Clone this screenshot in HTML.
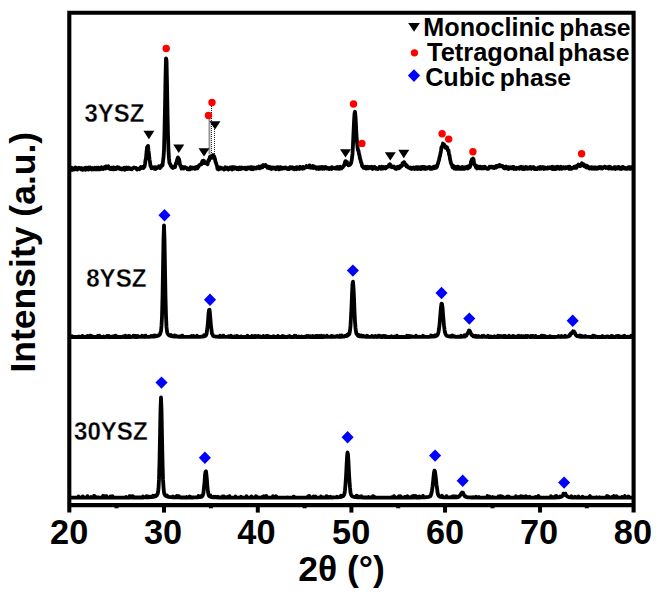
<!DOCTYPE html>
<html><head><meta charset="utf-8"><style>html,body{margin:0;padding:0;background:#fff;}svg{display:block;}</style></head>
<body><svg width="656" height="600" viewBox="0 0 656 600">
<rect width="656" height="600" fill="#fff"/>
<g font-family="&quot;Liberation Sans&quot;, sans-serif" font-weight="bold" fill="#000">
<path d="M71.0,168.7 L71.5,169.8 L72.0,167.8 L72.5,169.8 L73.0,168.2 L73.5,168.5 L74.0,169.5 L74.5,168.5 L75.0,168.8 L75.5,167.5 L76.0,169.3 L76.5,168.8 L77.0,168.3 L77.5,169.4 L78.0,168.2 L78.5,168.6 L79.0,167.8 L79.5,168.4 L80.0,168.0 L80.5,168.1 L81.0,169.3 L81.5,168.1 L82.0,168.6 L82.5,169.8 L83.0,169.8 L83.5,169.2 L84.0,168.8 L84.5,168.1 L85.0,167.8 L85.5,169.8 L86.0,168.7 L86.5,167.7 L87.0,168.9 L87.5,169.3 L88.0,168.9 L88.5,169.6 L89.0,167.5 L89.5,168.7 L90.0,168.5 L90.5,167.6 L91.0,169.0 L91.5,169.5 L92.0,168.8 L92.5,168.0 L93.0,169.4 L93.5,168.6 L94.0,168.6 L94.5,169.2 L95.0,167.8 L95.5,169.4 L96.0,169.0 L96.5,169.3 L97.0,167.8 L97.5,169.3 L98.0,167.8 L98.5,167.6 L99.0,169.4 L99.5,169.4 L100.0,169.4 L100.5,168.4 L101.0,168.0 L101.5,167.3 L102.0,168.8 L102.5,168.9 L103.0,169.1 L103.5,167.6 L104.0,167.3 L104.5,168.2 L105.0,168.3 L105.5,168.5 L106.0,166.4 L106.5,167.0 L107.0,168.0 L107.5,166.9 L108.0,167.4 L108.5,166.3 L109.0,168.0 L109.5,168.8 L110.0,168.8 L110.5,169.0 L111.0,168.6 L111.5,167.7 L112.0,169.0 L112.5,167.7 L113.0,169.3 L113.5,167.4 L114.0,169.3 L114.5,167.7 L115.0,168.2 L115.5,168.1 L116.0,169.0 L116.5,167.8 L117.0,168.3 L117.5,167.3 L118.0,168.0 L118.5,168.3 L119.0,167.6 L119.5,168.9 L120.0,168.3 L120.5,169.1 L121.0,168.9 L121.5,168.4 L122.0,169.4 L122.5,168.9 L123.0,169.3 L123.5,168.2 L124.0,168.6 L124.5,167.8 L125.0,169.7 L125.5,167.9 L126.0,167.9 L126.5,167.5 L127.0,167.9 L127.5,169.1 L128.0,169.0 L128.5,167.6 L129.0,168.2 L129.5,168.3 L130.0,168.9 L130.5,168.4 L131.0,168.7 L131.5,169.3 L132.0,169.0 L132.5,168.1 L133.0,168.3 L133.5,168.1 L134.0,167.5 L134.5,167.7 L135.0,167.9 L135.5,168.0 L136.0,167.9 L136.5,168.6 L137.0,169.5 L137.5,169.0 L138.0,169.0 L138.5,168.9 L139.0,168.5 L139.5,169.2 L140.0,168.7 L140.5,168.2 L141.0,167.1 L141.5,168.0 L142.0,167.3 L142.5,167.0 L143.0,167.7 L143.5,168.1 L144.0,166.4 L144.5,166.5 L145.0,164.1 L145.5,160.3 L146.0,158.2 L146.5,152.1 L147.0,147.5 L147.5,146.6 L148.0,145.9 L148.5,151.0 L149.0,154.4 L149.5,159.3 L150.0,162.3 L150.5,165.9 L151.0,166.1 L151.5,168.2 L152.0,167.7 L152.5,168.0 L153.0,167.7 L153.5,167.3 L154.0,167.5 L154.5,168.8 L155.0,167.1 L155.5,169.0 L156.0,168.4 L156.5,167.4 L157.0,168.0 L157.5,167.3 L158.0,167.3 L158.5,167.5 L159.0,166.2 L159.5,167.2 L160.0,168.1 L160.5,166.2 L161.0,167.0 L161.5,165.9 L162.0,164.7 L162.5,165.4 L163.0,161.3 L163.5,157.6 L164.0,150.0 L164.5,131.2 L165.0,107.2 L165.5,77.8 L166.0,58.3 L166.5,60.4 L167.0,82.7 L167.5,112.6 L168.0,134.7 L168.5,151.1 L169.0,158.9 L169.5,162.9 L170.0,163.7 L170.5,164.8 L171.0,166.2 L171.5,166.1 L172.0,167.4 L172.5,167.1 L173.0,167.9 L173.5,167.6 L174.0,167.3 L174.5,166.4 L175.0,167.1 L175.5,164.9 L176.0,163.1 L176.5,163.3 L177.0,160.1 L177.5,158.8 L178.0,157.5 L178.5,158.5 L179.0,159.0 L179.5,161.6 L180.0,164.8 L180.5,166.1 L181.0,166.1 L181.5,168.5 L182.0,166.9 L182.5,167.9 L183.0,167.1 L183.5,168.6 L184.0,167.6 L184.5,167.3 L185.0,167.1 L185.5,167.4 L186.0,167.5 L186.5,168.3 L187.0,168.1 L187.5,169.4 L188.0,169.4 L188.5,169.0 L189.0,168.7 L189.5,169.2 L190.0,169.4 L190.5,167.2 L191.0,167.4 L191.5,168.0 L192.0,167.4 L192.5,168.6 L193.0,167.8 L193.5,167.8 L194.0,167.9 L194.5,167.4 L195.0,168.9 L195.5,168.6 L196.0,168.5 L196.5,167.0 L197.0,167.8 L197.5,168.2 L198.0,166.7 L198.5,166.8 L199.0,165.5 L199.5,165.1 L200.0,164.7 L200.5,164.5 L201.0,163.9 L201.5,164.2 L202.0,162.2 L202.5,161.0 L203.0,162.6 L203.5,160.7 L204.0,160.8 L204.5,163.2 L205.0,163.2 L205.5,162.7 L206.0,162.7 L206.5,163.6 L207.0,163.5 L207.5,164.3 L208.0,162.3 L208.5,160.2 L209.0,160.7 L209.5,158.7 L210.0,156.6 L210.5,156.3 L211.0,157.2 L211.5,156.6 L212.0,157.8 L212.5,157.2 L213.0,155.0 L213.5,156.2 L214.0,156.2 L214.5,157.7 L215.0,159.2 L215.5,161.8 L216.0,163.0 L216.5,164.6 L217.0,166.0 L217.5,168.9 L218.0,168.5 L218.5,169.4 L219.0,168.0 L219.5,169.0 L220.0,167.4 L220.5,167.6 L221.0,167.9 L221.5,168.5 L222.0,168.5 L222.5,168.4 L223.0,168.2 L223.5,168.6 L224.0,169.5 L224.5,168.3 L225.0,169.2 L225.5,167.3 L226.0,168.1 L226.5,168.5 L227.0,168.7 L227.5,167.8 L228.0,168.2 L228.5,169.5 L229.0,168.8 L229.5,168.6 L230.0,167.4 L230.5,167.3 L231.0,167.7 L231.5,167.5 L232.0,169.6 L232.5,167.2 L233.0,168.1 L233.5,167.3 L234.0,168.7 L234.5,167.3 L235.0,167.3 L235.5,167.4 L236.0,167.8 L236.5,168.6 L237.0,169.1 L237.5,167.8 L238.0,167.9 L238.5,169.2 L239.0,169.0 L239.5,167.5 L240.0,169.1 L240.5,169.2 L241.0,167.6 L241.5,168.7 L242.0,167.6 L242.5,167.7 L243.0,168.3 L243.5,168.4 L244.0,168.3 L244.5,168.4 L245.0,167.7 L245.5,169.0 L246.0,167.8 L246.5,169.3 L247.0,168.4 L247.5,167.8 L248.0,167.5 L248.5,168.3 L249.0,168.0 L249.5,168.6 L250.0,168.3 L250.5,167.2 L251.0,169.1 L251.5,167.2 L252.0,169.0 L252.5,169.0 L253.0,169.2 L253.5,168.6 L254.0,167.4 L254.5,168.0 L255.0,168.0 L255.5,168.4 L256.0,167.8 L256.5,168.4 L257.0,167.2 L257.5,167.5 L258.0,167.8 L258.5,167.4 L259.0,166.6 L259.5,168.4 L260.0,167.6 L260.5,167.7 L261.0,166.4 L261.5,167.6 L262.0,167.1 L262.5,167.3 L263.0,165.2 L263.5,165.8 L264.0,165.5 L264.5,166.0 L265.0,165.2 L265.5,165.0 L266.0,166.1 L266.5,166.7 L267.0,166.3 L267.5,167.9 L268.0,166.7 L268.5,166.7 L269.0,168.1 L269.5,167.4 L270.0,167.1 L270.5,167.2 L271.0,168.9 L271.5,169.0 L272.0,168.3 L272.5,167.5 L273.0,168.6 L273.5,167.4 L274.0,167.7 L274.5,168.3 L275.0,167.9 L275.5,167.8 L276.0,169.3 L276.5,167.4 L277.0,168.5 L277.5,167.1 L278.0,167.2 L278.5,167.5 L279.0,169.4 L279.5,168.8 L280.0,169.1 L280.5,167.2 L281.0,168.7 L281.5,168.1 L282.0,168.0 L282.5,168.7 L283.0,167.8 L283.5,168.3 L284.0,167.7 L284.5,168.0 L285.0,168.3 L285.5,167.4 L286.0,167.7 L286.5,168.1 L287.0,168.2 L287.5,169.0 L288.0,168.6 L288.5,168.4 L289.0,169.1 L289.5,167.5 L290.0,167.3 L290.5,168.0 L291.0,167.4 L291.5,168.4 L292.0,168.4 L292.5,167.3 L293.0,168.7 L293.5,168.3 L294.0,168.0 L294.5,169.2 L295.0,169.0 L295.5,167.5 L296.0,167.4 L296.5,169.2 L297.0,167.3 L297.5,168.7 L298.0,167.7 L298.5,167.7 L299.0,168.2 L299.5,169.0 L300.0,166.8 L300.5,167.1 L301.0,168.4 L301.5,167.5 L302.0,167.2 L302.5,168.7 L303.0,166.9 L303.5,167.9 L304.0,168.4 L304.5,167.7 L305.0,167.5 L305.5,167.3 L306.0,167.4 L306.5,166.0 L307.0,166.7 L307.5,167.1 L308.0,167.2 L308.5,167.2 L309.0,167.3 L309.5,165.4 L310.0,166.2 L310.5,166.5 L311.0,167.7 L311.5,166.7 L312.0,166.4 L312.5,166.0 L313.0,166.8 L313.5,168.1 L314.0,166.4 L314.5,166.8 L315.0,167.2 L315.5,167.8 L316.0,167.5 L316.5,168.8 L317.0,167.2 L317.5,168.1 L318.0,168.7 L318.5,169.1 L319.0,168.9 L319.5,167.2 L320.0,168.8 L320.5,168.5 L321.0,167.9 L321.5,167.0 L322.0,167.3 L322.5,168.7 L323.0,167.1 L323.5,167.7 L324.0,167.5 L324.5,168.7 L325.0,167.8 L325.5,167.1 L326.0,167.8 L326.5,167.7 L327.0,168.6 L327.5,167.7 L328.0,168.6 L328.5,168.2 L329.0,169.0 L329.5,168.7 L330.0,167.9 L330.5,168.0 L331.0,168.0 L331.5,169.0 L332.0,167.2 L332.5,167.9 L333.0,168.1 L333.5,167.9 L334.0,168.3 L334.5,168.0 L335.0,167.8 L335.5,168.4 L336.0,167.6 L336.5,168.2 L337.0,168.5 L337.5,167.0 L338.0,167.4 L338.5,168.9 L339.0,168.9 L339.5,168.9 L340.0,166.6 L340.5,168.4 L341.0,168.6 L341.5,168.4 L342.0,167.7 L342.5,167.3 L343.0,167.0 L343.5,166.0 L344.0,165.7 L344.5,164.0 L345.0,162.3 L345.5,161.1 L346.0,162.6 L346.5,162.5 L347.0,161.9 L347.5,164.3 L348.0,163.9 L348.5,165.3 L349.0,165.1 L349.5,164.9 L350.0,164.7 L350.5,164.1 L351.0,163.2 L351.5,161.3 L352.0,157.9 L352.5,153.9 L353.0,144.4 L353.5,132.5 L354.0,122.1 L354.5,113.7 L355.0,111.8 L355.5,116.4 L356.0,125.9 L356.5,136.0 L357.0,141.8 L357.5,146.7 L358.0,150.4 L358.5,150.7 L359.0,153.9 L359.5,155.6 L360.0,158.6 L360.5,159.8 L361.0,162.1 L361.5,163.2 L362.0,165.6 L362.5,166.6 L363.0,166.5 L363.5,167.7 L364.0,167.4 L364.5,167.9 L365.0,168.2 L365.5,166.8 L366.0,168.6 L366.5,167.2 L367.0,167.5 L367.5,166.8 L368.0,168.4 L368.5,167.3 L369.0,168.2 L369.5,167.1 L370.0,167.4 L370.5,167.5 L371.0,167.2 L371.5,166.7 L372.0,168.5 L372.5,169.0 L373.0,167.2 L373.5,167.1 L374.0,167.6 L374.5,166.9 L375.0,168.3 L375.5,167.6 L376.0,168.1 L376.5,168.9 L377.0,168.8 L377.5,169.0 L378.0,169.0 L378.5,168.2 L379.0,168.0 L379.5,166.9 L380.0,167.0 L380.5,168.0 L381.0,168.8 L381.5,167.8 L382.0,166.7 L382.5,167.2 L383.0,168.5 L383.5,167.1 L384.0,167.1 L384.5,167.3 L385.0,168.0 L385.5,168.5 L386.0,166.9 L386.5,167.6 L387.0,167.2 L387.5,166.6 L388.0,166.6 L388.5,166.7 L389.0,164.9 L389.5,165.2 L390.0,164.2 L390.5,165.3 L391.0,166.2 L391.5,167.1 L392.0,166.3 L392.5,166.3 L393.0,167.2 L393.5,167.0 L394.0,166.5 L394.5,167.6 L395.0,168.4 L395.5,168.6 L396.0,168.9 L396.5,167.4 L397.0,167.1 L397.5,166.7 L398.0,167.5 L398.5,168.3 L399.0,166.8 L399.5,168.1 L400.0,167.5 L400.5,165.9 L401.0,166.4 L401.5,166.2 L402.0,165.7 L402.5,163.1 L403.0,164.0 L403.5,163.4 L404.0,162.1 L404.5,162.6 L405.0,164.8 L405.5,164.2 L406.0,164.8 L406.5,166.5 L407.0,165.6 L407.5,166.9 L408.0,166.9 L408.5,167.5 L409.0,167.8 L409.5,168.0 L410.0,167.6 L410.5,168.7 L411.0,168.6 L411.5,168.9 L412.0,167.8 L412.5,168.5 L413.0,167.8 L413.5,167.4 L414.0,168.3 L414.5,169.0 L415.0,168.7 L415.5,167.5 L416.0,167.3 L416.5,168.6 L417.0,168.5 L417.5,168.9 L418.0,167.1 L418.5,168.9 L419.0,167.8 L419.5,167.5 L420.0,167.6 L420.5,169.2 L421.0,169.1 L421.5,167.0 L422.0,167.6 L422.5,168.5 L423.0,166.9 L423.5,166.9 L424.0,166.9 L424.5,168.9 L425.0,167.6 L425.5,167.5 L426.0,168.7 L426.5,167.5 L427.0,168.5 L427.5,167.7 L428.0,167.5 L428.5,167.7 L429.0,167.1 L429.5,166.9 L430.0,168.8 L430.5,168.8 L431.0,167.8 L431.5,168.3 L432.0,168.7 L432.5,167.6 L433.0,168.3 L433.5,168.4 L434.0,166.7 L434.5,166.8 L435.0,168.1 L435.5,167.8 L436.0,166.3 L436.5,167.4 L437.0,166.7 L437.5,164.7 L438.0,163.5 L438.5,161.4 L439.0,160.3 L439.5,157.3 L440.0,155.8 L440.5,153.3 L441.0,150.6 L441.5,147.1 L442.0,146.5 L442.5,145.5 L443.0,143.5 L443.5,144.6 L444.0,145.6 L444.5,144.8 L445.0,147.2 L445.5,147.9 L446.0,147.7 L446.5,148.3 L447.0,147.3 L447.5,148.9 L448.0,150.7 L448.5,150.3 L449.0,154.3 L449.5,155.3 L450.0,159.1 L450.5,161.0 L451.0,163.3 L451.5,164.0 L452.0,165.3 L452.5,167.3 L453.0,165.8 L453.5,166.4 L454.0,168.6 L454.5,168.6 L455.0,166.8 L455.5,168.9 L456.0,167.2 L456.5,168.7 L457.0,168.8 L457.5,166.7 L458.0,166.7 L458.5,167.4 L459.0,168.9 L459.5,168.5 L460.0,167.6 L460.5,168.7 L461.0,167.4 L461.5,167.5 L462.0,167.1 L462.5,168.9 L463.0,168.6 L463.5,167.7 L464.0,167.2 L464.5,168.9 L465.0,167.5 L465.5,167.1 L466.0,167.5 L466.5,168.2 L467.0,168.3 L467.5,166.6 L468.0,168.5 L468.5,167.7 L469.0,165.9 L469.5,167.3 L470.0,166.8 L470.5,165.2 L471.0,161.5 L471.5,160.7 L472.0,159.2 L472.5,159.0 L473.0,158.5 L473.5,159.0 L474.0,162.9 L474.5,164.8 L475.0,165.1 L475.5,165.1 L476.0,167.6 L476.5,167.8 L477.0,168.5 L477.5,166.3 L478.0,167.5 L478.5,167.1 L479.0,166.8 L479.5,168.3 L480.0,167.4 L480.5,166.7 L481.0,166.9 L481.5,168.5 L482.0,168.1 L482.5,167.2 L483.0,168.3 L483.5,167.0 L484.0,168.3 L484.5,168.2 L485.0,166.7 L485.5,167.9 L486.0,168.4 L486.5,168.5 L487.0,168.3 L487.5,168.8 L488.0,168.4 L488.5,168.8 L489.0,167.6 L489.5,166.7 L490.0,167.0 L490.5,167.2 L491.0,166.6 L491.5,166.7 L492.0,167.6 L492.5,166.9 L493.0,166.9 L493.5,167.9 L494.0,168.1 L494.5,168.0 L495.0,166.7 L495.5,167.4 L496.0,167.6 L496.5,165.8 L497.0,165.8 L497.5,166.8 L498.0,165.8 L498.5,165.6 L499.0,166.0 L499.5,165.1 L500.0,166.2 L500.5,165.3 L501.0,165.9 L501.5,166.0 L502.0,166.4 L502.5,166.0 L503.0,166.9 L503.5,167.6 L504.0,166.8 L504.5,168.4 L505.0,168.3 L505.5,167.0 L506.0,166.5 L506.5,168.3 L507.0,167.0 L507.5,167.3 L508.0,167.9 L508.5,169.0 L509.0,167.3 L509.5,167.7 L510.0,168.1 L510.5,168.3 L511.0,167.2 L511.5,168.1 L512.0,168.0 L512.5,168.3 L513.0,167.0 L513.5,167.0 L514.0,169.0 L514.5,168.7 L515.0,168.7 L515.5,168.9 L516.0,169.0 L516.5,167.7 L517.0,168.5 L517.5,168.3 L518.0,168.1 L518.5,168.3 L519.0,167.5 L519.5,168.8 L520.0,167.7 L520.5,167.1 L521.0,166.7 L521.5,168.3 L522.0,167.3 L522.5,169.0 L523.0,167.2 L523.5,167.5 L524.0,169.1 L524.5,168.0 L525.0,168.9 L525.5,168.6 L526.0,167.0 L526.5,167.2 L527.0,167.7 L527.5,168.8 L528.0,167.5 L528.5,167.8 L529.0,167.9 L529.5,167.5 L530.0,168.6 L530.5,166.9 L531.0,167.3 L531.5,168.7 L532.0,168.2 L532.5,168.0 L533.0,167.6 L533.5,167.0 L534.0,167.8 L534.5,169.1 L535.0,168.1 L535.5,168.1 L536.0,169.1 L536.5,168.8 L537.0,169.1 L537.5,169.0 L538.0,168.3 L538.5,167.4 L539.0,168.2 L539.5,167.5 L540.0,168.7 L540.5,167.0 L541.0,167.8 L541.5,168.7 L542.0,167.8 L542.5,168.2 L543.0,166.9 L543.5,167.4 L544.0,169.0 L544.5,168.3 L545.0,167.6 L545.5,167.9 L546.0,168.6 L546.5,168.6 L547.0,168.7 L547.5,167.4 L548.0,167.3 L548.5,168.2 L549.0,168.0 L549.5,168.0 L550.0,167.2 L550.5,167.5 L551.0,168.5 L551.5,167.5 L552.0,168.5 L552.5,166.8 L553.0,169.0 L553.5,167.2 L554.0,167.8 L554.5,168.9 L555.0,167.3 L555.5,167.2 L556.0,169.0 L556.5,168.8 L557.0,167.9 L557.5,166.8 L558.0,168.1 L558.5,167.3 L559.0,167.2 L559.5,168.9 L560.0,168.1 L560.5,167.7 L561.0,166.8 L561.5,167.5 L562.0,168.7 L562.5,167.4 L563.0,167.4 L563.5,168.1 L564.0,167.2 L564.5,167.9 L565.0,168.4 L565.5,167.3 L566.0,167.7 L566.5,168.0 L567.0,167.4 L567.5,167.1 L568.0,166.8 L568.5,167.9 L569.0,168.8 L569.5,166.6 L570.0,168.6 L570.5,168.8 L571.0,167.8 L571.5,168.8 L572.0,168.1 L572.5,167.7 L573.0,167.4 L573.5,167.4 L574.0,167.8 L574.5,166.6 L575.0,167.7 L575.5,167.0 L576.0,167.3 L576.5,167.7 L577.0,165.8 L577.5,166.0 L578.0,165.4 L578.5,164.6 L579.0,165.7 L579.5,165.4 L580.0,166.1 L580.5,164.9 L581.0,164.3 L581.5,165.4 L582.0,163.3 L582.5,164.1 L583.0,165.4 L583.5,164.2 L584.0,165.0 L584.5,166.4 L585.0,165.5 L585.5,165.5 L586.0,167.3 L586.5,165.6 L587.0,167.6 L587.5,166.5 L588.0,166.4 L588.5,167.2 L589.0,167.3 L589.5,168.5 L590.0,168.1 L590.5,167.4 L591.0,167.7 L591.5,167.2 L592.0,168.8 L592.5,167.4 L593.0,168.6 L593.5,168.1 L594.0,168.7 L594.5,167.4 L595.0,167.5 L595.5,167.4 L596.0,168.5 L596.5,168.8 L597.0,168.5 L597.5,167.6 L598.0,168.5 L598.5,168.3 L599.0,167.8 L599.5,167.0 L600.0,167.1 L600.5,168.3 L601.0,167.1 L601.5,167.9 L602.0,168.5 L602.5,168.2 L603.0,168.0 L603.5,167.2 L604.0,166.9 L604.5,166.7 L605.0,166.7 L605.5,167.1 L606.0,167.9 L606.5,167.6 L607.0,167.1 L607.5,167.3 L608.0,167.7 L608.5,168.5 L609.0,168.2 L609.5,166.7 L610.0,167.8 L610.5,167.0 L611.0,168.6 L611.5,168.7 L612.0,167.9 L612.5,168.4 L613.0,168.2 L613.5,168.6 L614.0,167.3 L614.5,167.1 L615.0,168.4 L615.5,168.9 L616.0,167.2 L616.5,168.0 L617.0,167.9 L617.5,167.5 L618.0,168.4 L618.5,166.9 L619.0,167.5 L619.5,167.6 L620.0,168.9 L620.5,168.2 L621.0,168.3 L621.5,169.0 L622.0,167.1 L622.5,168.0 L623.0,166.9 L623.5,167.0 L624.0,168.3 L624.5,168.6 L625.0,168.1 L625.5,168.0 L626.0,168.5 L626.5,168.9 L627.0,168.8 L627.5,168.5 L628.0,167.6 L628.5,168.4 L629.0,167.2 L629.5,168.8 L630.0,167.3 L630.5,168.9 L631.0,167.3 L631.5,167.2 L632.0,167.4 L632.5,167.7" fill="none" stroke="#000" stroke-width="3.8" stroke-linejoin="round"/>
<path d="M71.0,337.0 L71.5,337.0 L72.0,336.2 L72.5,337.0 L73.0,337.0 L73.5,337.0 L74.0,337.0 L74.5,337.0 L75.0,337.0 L75.5,337.0 L76.0,337.0 L76.5,337.0 L77.0,337.0 L77.5,337.0 L78.0,337.0 L78.5,337.0 L79.0,336.4 L79.5,337.0 L80.0,337.0 L80.5,337.0 L81.0,337.0 L81.5,337.0 L82.0,336.1 L82.5,336.0 L83.0,337.0 L83.5,336.5 L84.0,337.0 L84.5,337.0 L85.0,337.0 L85.5,337.0 L86.0,337.0 L86.5,336.5 L87.0,337.0 L87.5,336.0 L88.0,337.0 L88.5,337.0 L89.0,337.0 L89.5,337.0 L90.0,335.7 L90.5,337.0 L91.0,335.7 L91.5,337.0 L92.0,336.2 L92.5,337.0 L93.0,337.0 L93.5,337.0 L94.0,337.0 L94.5,337.0 L95.0,337.0 L95.5,337.0 L96.0,337.0 L96.5,337.0 L97.0,336.6 L97.5,336.1 L98.0,337.0 L98.5,336.4 L99.0,337.0 L99.5,335.8 L100.0,337.0 L100.5,337.0 L101.0,337.0 L101.5,337.0 L102.0,337.0 L102.5,337.0 L103.0,337.0 L103.5,336.5 L104.0,337.0 L104.5,337.0 L105.0,337.0 L105.5,337.0 L106.0,337.0 L106.5,336.6 L107.0,335.9 L107.5,337.0 L108.0,337.0 L108.5,337.0 L109.0,335.9 L109.5,337.0 L110.0,337.0 L110.5,337.0 L111.0,337.0 L111.5,337.0 L112.0,336.7 L112.5,336.4 L113.0,337.0 L113.5,337.0 L114.0,337.0 L114.5,336.1 L115.0,337.0 L115.5,337.0 L116.0,335.7 L116.5,337.0 L117.0,337.0 L117.5,337.0 L118.0,337.0 L118.5,337.0 L119.0,337.0 L119.5,337.0 L120.0,337.0 L120.5,337.0 L121.0,337.0 L121.5,337.0 L122.0,337.0 L122.5,337.0 L123.0,336.3 L123.5,336.4 L124.0,337.0 L124.5,337.0 L125.0,337.0 L125.5,335.8 L126.0,337.0 L126.5,337.0 L127.0,337.0 L127.5,337.0 L128.0,336.2 L128.5,336.6 L129.0,335.9 L129.5,337.0 L130.0,336.2 L130.5,337.0 L131.0,337.0 L131.5,337.0 L132.0,336.9 L132.5,336.9 L133.0,336.9 L133.5,335.7 L134.0,336.4 L134.5,336.9 L135.0,336.3 L135.5,336.9 L136.0,335.9 L136.5,336.9 L137.0,336.5 L137.5,336.9 L138.0,336.1 L138.5,336.9 L139.0,336.9 L139.5,336.9 L140.0,336.9 L140.5,336.9 L141.0,336.9 L141.5,336.9 L142.0,335.8 L142.5,336.9 L143.0,336.9 L143.5,336.9 L144.0,336.9 L144.5,336.0 L145.0,336.9 L145.5,335.6 L146.0,336.3 L146.5,336.8 L147.0,336.8 L147.5,336.8 L148.0,336.8 L148.5,336.8 L149.0,336.8 L149.5,336.8 L150.0,336.8 L150.5,336.7 L151.0,335.9 L151.5,336.7 L152.0,336.7 L152.5,336.6 L153.0,336.6 L153.5,335.8 L154.0,336.5 L154.5,336.5 L155.0,335.4 L155.5,336.3 L156.0,336.3 L156.5,336.2 L157.0,336.0 L157.5,335.9 L158.0,335.4 L158.5,335.5 L159.0,335.2 L159.5,334.8 L160.0,334.2 L160.5,332.4 L161.0,331.4 L161.5,325.9 L162.0,316.8 L162.5,297.7 L163.0,269.3 L163.5,239.3 L164.0,225.4 L164.5,239.7 L165.0,268.6 L165.5,297.7 L166.0,315.9 L166.5,326.9 L167.0,331.4 L167.5,333.3 L168.0,334.2 L168.5,334.8 L169.0,335.2 L169.5,335.5 L170.0,335.7 L170.5,335.9 L171.0,334.9 L171.5,336.2 L172.0,336.3 L172.5,336.3 L173.0,336.4 L173.5,336.5 L174.0,336.5 L174.5,335.5 L175.0,336.6 L175.5,336.6 L176.0,335.8 L176.5,336.7 L177.0,336.7 L177.5,336.7 L178.0,336.7 L178.5,336.8 L179.0,336.4 L179.5,336.3 L180.0,336.8 L180.5,336.8 L181.0,336.8 L181.5,336.8 L182.0,335.6 L182.5,335.7 L183.0,336.5 L183.5,336.8 L184.0,336.9 L184.5,336.9 L185.0,336.9 L185.5,336.9 L186.0,336.9 L186.5,336.9 L187.0,336.9 L187.5,336.9 L188.0,336.9 L188.5,336.9 L189.0,336.9 L189.5,336.9 L190.0,336.9 L190.5,336.9 L191.0,336.9 L191.5,336.1 L192.0,336.9 L192.5,336.9 L193.0,336.9 L193.5,335.9 L194.0,336.9 L194.5,336.9 L195.0,336.9 L195.5,336.9 L196.0,336.9 L196.5,336.9 L197.0,335.7 L197.5,336.8 L198.0,336.8 L198.5,336.8 L199.0,336.8 L199.5,336.8 L200.0,336.8 L200.5,336.8 L201.0,336.7 L201.5,336.7 L202.0,336.7 L202.5,336.6 L203.0,336.6 L203.5,336.5 L204.0,335.3 L204.5,336.3 L205.0,336.1 L205.5,335.9 L206.0,335.3 L206.5,334.1 L207.0,330.9 L207.5,326.6 L208.0,321.8 L208.5,314.1 L209.0,310.2 L209.5,309.7 L210.0,314.0 L210.5,320.5 L211.0,326.6 L211.5,329.9 L212.0,333.7 L212.5,334.6 L213.0,335.8 L213.5,336.1 L214.0,336.3 L214.5,336.4 L215.0,336.5 L215.5,336.6 L216.0,336.6 L216.5,336.7 L217.0,336.7 L217.5,336.7 L218.0,336.8 L218.5,336.8 L219.0,336.8 L219.5,336.8 L220.0,335.7 L220.5,336.9 L221.0,336.9 L221.5,336.9 L222.0,336.9 L222.5,336.9 L223.0,335.8 L223.5,335.6 L224.0,336.9 L224.5,336.9 L225.0,336.9 L225.5,336.9 L226.0,336.9 L226.5,336.9 L227.0,336.9 L227.5,336.9 L228.0,336.9 L228.5,336.2 L229.0,336.5 L229.5,336.9 L230.0,336.2 L230.5,336.6 L231.0,335.7 L231.5,337.0 L232.0,337.0 L232.5,337.0 L233.0,337.0 L233.5,337.0 L234.0,336.5 L234.5,336.4 L235.0,337.0 L235.5,336.6 L236.0,337.0 L236.5,337.0 L237.0,336.0 L237.5,337.0 L238.0,336.4 L238.5,337.0 L239.0,337.0 L239.5,337.0 L240.0,337.0 L240.5,336.5 L241.0,337.0 L241.5,336.4 L242.0,337.0 L242.5,337.0 L243.0,337.0 L243.5,337.0 L244.0,337.0 L244.5,337.0 L245.0,337.0 L245.5,337.0 L246.0,337.0 L246.5,337.0 L247.0,337.0 L247.5,335.8 L248.0,337.0 L248.5,337.0 L249.0,337.0 L249.5,337.0 L250.0,337.0 L250.5,337.0 L251.0,336.5 L251.5,337.0 L252.0,336.0 L252.5,337.0 L253.0,337.0 L253.5,337.0 L254.0,337.0 L254.5,336.1 L255.0,335.9 L255.5,337.0 L256.0,337.0 L256.5,336.3 L257.0,337.0 L257.5,337.0 L258.0,336.0 L258.5,335.9 L259.0,336.4 L259.5,337.0 L260.0,337.0 L260.5,336.5 L261.0,337.0 L261.5,337.0 L262.0,337.0 L262.5,337.0 L263.0,337.0 L263.5,335.9 L264.0,337.0 L264.5,337.0 L265.0,337.0 L265.5,337.0 L266.0,337.0 L266.5,336.1 L267.0,336.5 L267.5,337.0 L268.0,335.9 L268.5,337.0 L269.0,337.0 L269.5,337.0 L270.0,336.6 L270.5,337.0 L271.0,337.0 L271.5,337.0 L272.0,337.0 L272.5,337.0 L273.0,337.0 L273.5,336.2 L274.0,337.0 L274.5,337.0 L275.0,337.0 L275.5,337.0 L276.0,337.0 L276.5,337.0 L277.0,337.0 L277.5,337.0 L278.0,335.9 L278.5,337.0 L279.0,337.0 L279.5,337.0 L280.0,337.0 L280.5,337.0 L281.0,337.0 L281.5,337.0 L282.0,337.0 L282.5,336.0 L283.0,337.0 L283.5,337.0 L284.0,337.0 L284.5,336.5 L285.0,337.0 L285.5,337.0 L286.0,337.0 L286.5,337.0 L287.0,337.0 L287.5,336.6 L288.0,337.0 L288.5,336.5 L289.0,336.5 L289.5,336.0 L290.0,337.0 L290.5,337.0 L291.0,337.0 L291.5,337.0 L292.0,337.0 L292.5,337.0 L293.0,337.0 L293.5,337.0 L294.0,337.0 L294.5,335.8 L295.0,337.0 L295.5,336.3 L296.0,336.0 L296.5,337.0 L297.0,337.0 L297.5,337.0 L298.0,337.0 L298.5,337.0 L299.0,336.4 L299.5,337.0 L300.0,337.0 L300.5,337.0 L301.0,337.0 L301.5,336.5 L302.0,337.0 L302.5,337.0 L303.0,337.0 L303.5,337.0 L304.0,337.0 L304.5,337.0 L305.0,337.0 L305.5,336.4 L306.0,337.0 L306.5,337.0 L307.0,336.0 L307.5,336.2 L308.0,337.0 L308.5,336.0 L309.0,337.0 L309.5,337.0 L310.0,337.0 L310.5,337.0 L311.0,336.3 L311.5,337.0 L312.0,336.5 L312.5,337.0 L313.0,336.1 L313.5,337.0 L314.0,337.0 L314.5,337.0 L315.0,337.0 L315.5,336.2 L316.0,337.0 L316.5,336.1 L317.0,337.0 L317.5,337.0 L318.0,335.9 L318.5,337.0 L319.0,337.0 L319.5,335.9 L320.0,337.0 L320.5,337.0 L321.0,337.0 L321.5,335.7 L322.0,337.0 L322.5,337.0 L323.0,337.0 L323.5,337.0 L324.0,336.1 L324.5,336.9 L325.0,336.9 L325.5,336.9 L326.0,336.9 L326.5,336.9 L327.0,335.8 L327.5,336.9 L328.0,336.9 L328.5,336.9 L329.0,336.9 L329.5,336.9 L330.0,336.9 L330.5,336.9 L331.0,336.2 L331.5,336.9 L332.0,335.9 L332.5,336.9 L333.0,336.9 L333.5,336.9 L334.0,336.4 L334.5,336.9 L335.0,336.9 L335.5,336.9 L336.0,336.9 L336.5,336.2 L337.0,336.4 L337.5,336.0 L338.0,336.8 L338.5,336.8 L339.0,336.8 L339.5,336.2 L340.0,335.6 L340.5,336.8 L341.0,336.1 L341.5,336.7 L342.0,335.5 L342.5,336.7 L343.0,336.6 L343.5,336.6 L344.0,336.5 L344.5,336.5 L345.0,336.0 L345.5,335.7 L346.0,336.2 L346.5,336.1 L347.0,336.0 L347.5,334.7 L348.0,335.5 L348.5,334.0 L349.0,334.5 L349.5,333.2 L350.0,330.6 L350.5,325.7 L351.0,316.9 L351.5,306.8 L352.0,294.4 L352.5,283.9 L353.0,281.6 L353.5,287.8 L354.0,298.2 L354.5,311.5 L355.0,321.4 L355.5,328.0 L356.0,331.8 L356.5,333.8 L357.0,334.5 L357.5,334.9 L358.0,335.7 L358.5,334.9 L359.0,335.1 L359.5,336.2 L360.0,335.7 L360.5,336.4 L361.0,336.4 L361.5,335.4 L362.0,336.6 L362.5,336.6 L363.0,335.8 L363.5,335.9 L364.0,336.7 L364.5,336.7 L365.0,336.7 L365.5,336.8 L366.0,336.4 L366.5,336.8 L367.0,335.8 L367.5,336.8 L368.0,336.3 L368.5,336.8 L369.0,336.8 L369.5,336.9 L370.0,336.9 L370.5,336.9 L371.0,336.9 L371.5,336.9 L372.0,335.9 L372.5,336.9 L373.0,336.9 L373.5,336.9 L374.0,336.5 L374.5,336.9 L375.0,336.2 L375.5,336.0 L376.0,336.2 L376.5,336.9 L377.0,336.6 L377.5,336.9 L378.0,336.9 L378.5,335.7 L379.0,336.9 L379.5,335.7 L380.0,336.9 L380.5,336.9 L381.0,336.2 L381.5,336.9 L382.0,336.4 L382.5,336.9 L383.0,335.9 L383.5,335.9 L384.0,336.5 L384.5,336.9 L385.0,335.9 L385.5,337.0 L386.0,337.0 L386.5,336.5 L387.0,337.0 L387.5,337.0 L388.0,337.0 L388.5,337.0 L389.0,337.0 L389.5,337.0 L390.0,337.0 L390.5,337.0 L391.0,337.0 L391.5,336.3 L392.0,337.0 L392.5,337.0 L393.0,337.0 L393.5,337.0 L394.0,337.0 L394.5,336.4 L395.0,337.0 L395.5,337.0 L396.0,337.0 L396.5,337.0 L397.0,335.8 L397.5,336.5 L398.0,337.0 L398.5,337.0 L399.0,337.0 L399.5,337.0 L400.0,337.0 L400.5,337.0 L401.0,337.0 L401.5,337.0 L402.0,337.0 L402.5,337.0 L403.0,337.0 L403.5,337.0 L404.0,337.0 L404.5,337.0 L405.0,337.0 L405.5,337.0 L406.0,337.0 L406.5,337.0 L407.0,335.8 L407.5,337.0 L408.0,337.0 L408.5,337.0 L409.0,336.0 L409.5,337.0 L410.0,337.0 L410.5,336.2 L411.0,336.9 L411.5,336.9 L412.0,336.9 L412.5,336.4 L413.0,336.9 L413.5,336.9 L414.0,336.9 L414.5,336.9 L415.0,336.9 L415.5,336.5 L416.0,335.7 L416.5,336.9 L417.0,336.9 L417.5,336.9 L418.0,336.9 L418.5,336.9 L419.0,336.9 L419.5,336.6 L420.0,336.9 L420.5,336.9 L421.0,336.9 L421.5,336.9 L422.0,336.9 L422.5,336.9 L423.0,335.7 L423.5,336.9 L424.0,336.9 L424.5,336.9 L425.0,336.6 L425.5,336.9 L426.0,336.9 L426.5,336.8 L427.0,336.8 L427.5,336.8 L428.0,336.8 L428.5,336.8 L429.0,336.8 L429.5,336.8 L430.0,336.8 L430.5,336.7 L431.0,335.4 L431.5,335.7 L432.0,336.6 L432.5,336.6 L433.0,336.6 L433.5,336.5 L434.0,336.5 L434.5,335.6 L435.0,335.2 L435.5,336.2 L436.0,336.0 L436.5,335.8 L437.0,335.5 L437.5,334.9 L438.0,333.8 L438.5,331.9 L439.0,328.9 L439.5,324.6 L440.0,318.9 L440.5,312.6 L441.0,307.0 L441.5,303.6 L442.0,304.0 L442.5,307.3 L443.0,313.9 L443.5,320.1 L444.0,325.5 L444.5,329.6 L445.0,332.4 L445.5,334.0 L446.0,335.0 L446.5,335.6 L447.0,335.9 L447.5,336.1 L448.0,336.2 L448.5,336.3 L449.0,336.4 L449.5,336.5 L450.0,336.5 L450.5,336.1 L451.0,336.6 L451.5,336.2 L452.0,336.7 L452.5,335.4 L453.0,336.7 L453.5,336.7 L454.0,336.7 L454.5,336.2 L455.0,336.8 L455.5,336.8 L456.0,336.8 L456.5,336.8 L457.0,336.8 L457.5,336.8 L458.0,336.4 L458.5,336.8 L459.0,336.8 L459.5,336.8 L460.0,336.8 L460.5,336.8 L461.0,335.8 L461.5,336.8 L462.0,336.7 L462.5,336.7 L463.0,336.7 L463.5,336.6 L464.0,336.6 L464.5,335.3 L465.0,336.4 L465.5,335.4 L466.0,335.9 L466.5,335.4 L467.0,334.1 L467.5,333.8 L468.0,332.7 L468.5,331.6 L469.0,330.4 L469.5,330.7 L470.0,331.4 L470.5,332.5 L471.0,333.6 L471.5,334.6 L472.0,335.3 L472.5,335.2 L473.0,336.2 L473.5,336.4 L474.0,336.5 L474.5,336.6 L475.0,336.0 L475.5,336.7 L476.0,335.8 L476.5,336.8 L477.0,336.8 L477.5,336.8 L478.0,336.8 L478.5,336.0 L479.0,336.9 L479.5,336.9 L480.0,336.9 L480.5,336.9 L481.0,336.9 L481.5,336.9 L482.0,336.1 L482.5,336.9 L483.0,336.4 L483.5,335.7 L484.0,336.1 L484.5,336.5 L485.0,336.9 L485.5,336.9 L486.0,336.9 L486.5,336.9 L487.0,336.9 L487.5,336.9 L488.0,335.7 L488.5,337.0 L489.0,337.0 L489.5,337.0 L490.0,336.6 L490.5,337.0 L491.0,336.5 L491.5,337.0 L492.0,337.0 L492.5,337.0 L493.0,337.0 L493.5,337.0 L494.0,337.0 L494.5,336.3 L495.0,337.0 L495.5,337.0 L496.0,337.0 L496.5,337.0 L497.0,337.0 L497.5,337.0 L498.0,335.8 L498.5,337.0 L499.0,337.0 L499.5,337.0 L500.0,335.9 L500.5,336.1 L501.0,337.0 L501.5,337.0 L502.0,336.3 L502.5,337.0 L503.0,337.0 L503.5,337.0 L504.0,335.9 L504.5,337.0 L505.0,336.5 L505.5,336.1 L506.0,337.0 L506.5,337.0 L507.0,337.0 L507.5,337.0 L508.0,337.0 L508.5,337.0 L509.0,335.8 L509.5,337.0 L510.0,337.0 L510.5,337.0 L511.0,336.7 L511.5,337.0 L512.0,337.0 L512.5,337.0 L513.0,335.9 L513.5,337.0 L514.0,336.2 L514.5,337.0 L515.0,337.0 L515.5,337.0 L516.0,337.0 L516.5,337.0 L517.0,336.4 L517.5,337.0 L518.0,335.9 L518.5,335.7 L519.0,337.0 L519.5,337.0 L520.0,337.0 L520.5,337.0 L521.0,337.0 L521.5,335.9 L522.0,337.0 L522.5,337.0 L523.0,337.0 L523.5,337.0 L524.0,336.2 L524.5,337.0 L525.0,337.0 L525.5,337.0 L526.0,336.1 L526.5,336.4 L527.0,337.0 L527.5,335.9 L528.0,336.1 L528.5,336.5 L529.0,336.4 L529.5,337.0 L530.0,336.5 L530.5,337.0 L531.0,335.9 L531.5,336.6 L532.0,337.0 L532.5,336.0 L533.0,336.0 L533.5,337.0 L534.0,337.0 L534.5,336.5 L535.0,337.0 L535.5,336.0 L536.0,337.0 L536.5,337.0 L537.0,337.0 L537.5,337.0 L538.0,337.0 L538.5,337.0 L539.0,337.0 L539.5,337.0 L540.0,337.0 L540.5,337.0 L541.0,337.0 L541.5,335.8 L542.0,337.0 L542.5,337.0 L543.0,335.7 L543.5,337.0 L544.0,337.0 L544.5,337.0 L545.0,336.1 L545.5,337.0 L546.0,337.0 L546.5,337.0 L547.0,337.0 L547.5,337.0 L548.0,337.0 L548.5,337.0 L549.0,337.0 L549.5,337.0 L550.0,336.2 L550.5,337.0 L551.0,336.6 L551.5,337.0 L552.0,337.0 L552.5,337.0 L553.0,337.0 L553.5,337.0 L554.0,337.0 L554.5,337.0 L555.0,337.0 L555.5,337.0 L556.0,337.0 L556.5,336.9 L557.0,336.9 L557.5,336.9 L558.0,336.4 L558.5,336.0 L559.0,336.9 L559.5,336.9 L560.0,336.9 L560.5,336.4 L561.0,336.9 L561.5,336.1 L562.0,336.9 L562.5,336.9 L563.0,336.9 L563.5,336.9 L564.0,336.8 L564.5,336.2 L565.0,335.8 L565.5,336.8 L566.0,336.8 L566.5,336.7 L567.0,336.7 L567.5,336.6 L568.0,336.5 L568.5,336.4 L569.0,336.2 L569.5,335.1 L570.0,335.5 L570.5,333.9 L571.0,333.3 L571.5,333.6 L572.0,332.8 L572.5,332.2 L573.0,331.3 L573.5,331.9 L574.0,331.6 L574.5,333.0 L575.0,333.0 L575.5,334.5 L576.0,335.1 L576.5,335.6 L577.0,336.0 L577.5,336.2 L578.0,336.0 L578.5,336.5 L579.0,336.6 L579.5,336.7 L580.0,335.6 L580.5,336.8 L581.0,336.8 L581.5,335.9 L582.0,336.8 L582.5,336.9 L583.0,336.9 L583.5,336.3 L584.0,336.4 L584.5,336.9 L585.0,336.9 L585.5,336.1 L586.0,336.9 L586.5,336.9 L587.0,336.9 L587.5,336.9 L588.0,336.9 L588.5,336.9 L589.0,336.9 L589.5,336.9 L590.0,337.0 L590.5,337.0 L591.0,337.0 L591.5,337.0 L592.0,337.0 L592.5,337.0 L593.0,335.7 L593.5,337.0 L594.0,335.8 L594.5,336.2 L595.0,336.7 L595.5,337.0 L596.0,336.4 L596.5,336.6 L597.0,337.0 L597.5,337.0 L598.0,337.0 L598.5,337.0 L599.0,337.0 L599.5,337.0 L600.0,337.0 L600.5,337.0 L601.0,337.0 L601.5,337.0 L602.0,337.0 L602.5,336.1 L603.0,337.0 L603.5,337.0 L604.0,337.0 L604.5,337.0 L605.0,337.0 L605.5,336.7 L606.0,337.0 L606.5,337.0 L607.0,336.5 L607.5,336.5 L608.0,336.4 L608.5,337.0 L609.0,337.0 L609.5,337.0 L610.0,337.0 L610.5,337.0 L611.0,337.0 L611.5,335.9 L612.0,337.0 L612.5,336.2 L613.0,337.0 L613.5,336.6 L614.0,337.0 L614.5,337.0 L615.0,337.0 L615.5,336.5 L616.0,337.0 L616.5,336.1 L617.0,335.9 L617.5,337.0 L618.0,337.0 L618.5,337.0 L619.0,336.0 L619.5,337.0 L620.0,337.0 L620.5,337.0 L621.0,337.0 L621.5,337.0 L622.0,336.6 L622.5,337.0 L623.0,337.0 L623.5,336.3 L624.0,337.0 L624.5,335.8 L625.0,337.0 L625.5,336.6 L626.0,337.0 L626.5,337.0 L627.0,337.0 L627.5,336.6 L628.0,337.0 L628.5,337.0 L629.0,337.0 L629.5,337.0 L630.0,336.4 L630.5,336.6 L631.0,337.0 L631.5,335.7 L632.0,337.0 L632.5,337.0" fill="none" stroke="#000" stroke-width="3.8" stroke-linejoin="round"/>
<path d="M71.0,497.6 L71.5,497.6 L72.0,497.6 L72.5,497.6 L73.0,497.6 L73.5,497.6 L74.0,497.6 L74.5,497.6 L75.0,497.6 L75.5,497.6 L76.0,497.6 L76.5,497.6 L77.0,497.6 L77.5,497.6 L78.0,497.6 L78.5,496.5 L79.0,497.6 L79.5,497.6 L80.0,497.6 L80.5,497.6 L81.0,497.6 L81.5,497.2 L82.0,497.6 L82.5,497.6 L83.0,496.5 L83.5,497.6 L84.0,497.6 L84.5,497.6 L85.0,497.6 L85.5,497.6 L86.0,497.6 L86.5,497.6 L87.0,497.6 L87.5,496.1 L88.0,497.6 L88.5,497.6 L89.0,497.6 L89.5,497.6 L90.0,497.6 L90.5,497.6 L91.0,497.1 L91.5,497.6 L92.0,497.6 L92.5,497.2 L93.0,497.6 L93.5,497.6 L94.0,496.0 L94.5,497.6 L95.0,496.2 L95.5,497.6 L96.0,497.6 L96.5,497.6 L97.0,497.6 L97.5,497.6 L98.0,497.2 L98.5,497.6 L99.0,497.6 L99.5,497.6 L100.0,497.6 L100.5,497.6 L101.0,497.6 L101.5,497.6 L102.0,497.6 L102.5,497.6 L103.0,496.0 L103.5,497.6 L104.0,496.3 L104.5,497.6 L105.0,496.2 L105.5,497.6 L106.0,497.6 L106.5,496.1 L107.0,497.6 L107.5,497.6 L108.0,497.6 L108.5,497.6 L109.0,497.6 L109.5,497.6 L110.0,497.6 L110.5,496.4 L111.0,497.6 L111.5,497.6 L112.0,497.6 L112.5,496.3 L113.0,497.0 L113.5,497.6 L114.0,497.6 L114.5,497.6 L115.0,497.6 L115.5,497.6 L116.0,497.6 L116.5,497.6 L117.0,497.6 L117.5,497.6 L118.0,497.6 L118.5,497.6 L119.0,497.6 L119.5,497.6 L120.0,497.6 L120.5,497.6 L121.0,497.6 L121.5,497.6 L122.0,497.6 L122.5,497.6 L123.0,497.6 L123.5,497.6 L124.0,497.6 L124.5,497.6 L125.0,497.6 L125.5,497.6 L126.0,497.0 L126.5,497.6 L127.0,497.6 L127.5,497.6 L128.0,497.6 L128.5,497.6 L129.0,497.6 L129.5,496.3 L130.0,497.6 L130.5,497.5 L131.0,496.2 L131.5,496.8 L132.0,497.5 L132.5,497.5 L133.0,496.2 L133.5,497.5 L134.0,497.5 L134.5,497.5 L135.0,497.5 L135.5,497.5 L136.0,497.5 L136.5,497.5 L137.0,497.5 L137.5,497.5 L138.0,497.5 L138.5,497.5 L139.0,497.5 L139.5,497.5 L140.0,497.5 L140.5,497.5 L141.0,497.5 L141.5,497.5 L142.0,497.5 L142.5,497.5 L143.0,496.5 L143.5,497.5 L144.0,497.4 L144.5,497.4 L145.0,497.4 L145.5,497.4 L146.0,497.4 L146.5,496.3 L147.0,497.4 L147.5,497.4 L148.0,497.3 L148.5,496.6 L149.0,497.0 L149.5,497.3 L150.0,497.2 L150.5,496.8 L151.0,497.2 L151.5,497.1 L152.0,497.1 L152.5,497.0 L153.0,495.8 L153.5,496.8 L154.0,496.7 L154.5,496.6 L155.0,496.4 L155.5,495.5 L156.0,496.0 L156.5,495.6 L157.0,495.1 L157.5,494.2 L158.0,492.5 L158.5,488.5 L159.0,479.4 L159.5,462.1 L160.0,436.6 L160.5,409.9 L161.0,397.5 L161.5,409.9 L162.0,436.6 L162.5,461.0 L163.0,479.4 L163.5,487.1 L164.0,492.5 L164.5,494.2 L165.0,495.1 L165.5,495.6 L166.0,496.0 L166.5,496.2 L167.0,495.4 L167.5,496.6 L168.0,496.7 L168.5,496.8 L169.0,496.9 L169.5,497.0 L170.0,497.1 L170.5,497.1 L171.0,497.2 L171.5,497.2 L172.0,497.2 L172.5,497.3 L173.0,496.6 L173.5,497.3 L174.0,497.3 L174.5,497.3 L175.0,497.4 L175.5,497.4 L176.0,497.4 L176.5,496.0 L177.0,495.9 L177.5,496.1 L178.0,497.4 L178.5,497.4 L179.0,496.3 L179.5,497.4 L180.0,497.5 L180.5,497.5 L181.0,497.5 L181.5,497.5 L182.0,497.5 L182.5,497.5 L183.0,497.5 L183.5,497.5 L184.0,497.5 L184.5,497.5 L185.0,497.5 L185.5,497.5 L186.0,497.5 L186.5,497.0 L187.0,497.5 L187.5,497.5 L188.0,497.5 L188.5,497.5 L189.0,497.2 L189.5,496.5 L190.0,497.5 L190.5,497.5 L191.0,497.1 L191.5,497.5 L192.0,497.5 L192.5,497.5 L193.0,497.5 L193.5,497.5 L194.0,497.4 L194.5,497.4 L195.0,497.4 L195.5,497.4 L196.0,497.4 L196.5,497.4 L197.0,497.4 L197.5,497.3 L198.0,497.3 L198.5,496.0 L199.0,497.2 L199.5,497.2 L200.0,497.1 L200.5,496.1 L201.0,496.1 L201.5,496.8 L202.0,496.5 L202.5,496.0 L203.0,494.8 L203.5,492.5 L204.0,487.1 L204.5,483.0 L205.0,475.1 L205.5,471.8 L206.0,471.3 L206.5,475.5 L207.0,481.0 L207.5,487.6 L208.0,491.9 L208.5,494.5 L209.0,495.8 L209.5,496.4 L210.0,495.5 L210.5,495.5 L211.0,497.0 L211.5,497.1 L212.0,497.2 L212.5,497.2 L213.0,497.3 L213.5,497.3 L214.0,496.7 L214.5,497.4 L215.0,497.4 L215.5,497.4 L216.0,496.7 L216.5,497.4 L217.0,497.5 L217.5,497.5 L218.0,496.8 L218.5,497.5 L219.0,497.5 L219.5,497.5 L220.0,497.5 L220.5,497.5 L221.0,497.5 L221.5,497.5 L222.0,497.5 L222.5,496.6 L223.0,497.5 L223.5,497.5 L224.0,496.5 L224.5,497.5 L225.0,497.5 L225.5,497.5 L226.0,497.5 L226.5,497.6 L227.0,497.6 L227.5,496.9 L228.0,497.6 L228.5,496.9 L229.0,497.6 L229.5,496.1 L230.0,497.6 L230.5,497.6 L231.0,497.6 L231.5,497.6 L232.0,497.6 L232.5,497.6 L233.0,497.6 L233.5,497.6 L234.0,497.6 L234.5,497.6 L235.0,497.6 L235.5,496.4 L236.0,497.6 L236.5,497.6 L237.0,497.6 L237.5,497.6 L238.0,497.6 L238.5,497.6 L239.0,497.6 L239.5,497.6 L240.0,497.6 L240.5,497.6 L241.0,496.7 L241.5,497.6 L242.0,497.6 L242.5,497.6 L243.0,497.6 L243.5,497.6 L244.0,497.6 L244.5,497.6 L245.0,497.6 L245.5,497.6 L246.0,497.6 L246.5,496.3 L247.0,497.6 L247.5,497.6 L248.0,497.6 L248.5,497.6 L249.0,497.6 L249.5,497.6 L250.0,497.6 L250.5,497.6 L251.0,496.8 L251.5,496.5 L252.0,497.6 L252.5,497.6 L253.0,497.6 L253.5,497.6 L254.0,497.6 L254.5,497.6 L255.0,497.3 L255.5,497.6 L256.0,496.2 L256.5,497.6 L257.0,496.8 L257.5,497.6 L258.0,497.6 L258.5,497.6 L259.0,497.6 L259.5,497.6 L260.0,497.6 L260.5,497.6 L261.0,497.6 L261.5,497.6 L262.0,497.1 L262.5,497.6 L263.0,497.6 L263.5,497.6 L264.0,496.3 L264.5,497.6 L265.0,497.6 L265.5,497.6 L266.0,497.6 L266.5,496.0 L267.0,497.6 L267.5,497.6 L268.0,497.6 L268.5,497.6 L269.0,497.6 L269.5,497.6 L270.0,497.6 L270.5,497.6 L271.0,497.6 L271.5,497.6 L272.0,497.6 L272.5,497.6 L273.0,496.3 L273.5,497.6 L274.0,497.6 L274.5,497.6 L275.0,497.6 L275.5,497.6 L276.0,496.2 L276.5,496.8 L277.0,497.6 L277.5,497.6 L278.0,497.6 L278.5,497.6 L279.0,497.6 L279.5,497.6 L280.0,497.6 L280.5,497.6 L281.0,497.6 L281.5,497.6 L282.0,497.6 L282.5,497.6 L283.0,497.6 L283.5,497.6 L284.0,497.6 L284.5,497.6 L285.0,497.6 L285.5,497.6 L286.0,497.6 L286.5,497.6 L287.0,497.6 L287.5,497.3 L288.0,497.6 L288.5,497.6 L289.0,497.6 L289.5,497.6 L290.0,497.6 L290.5,497.6 L291.0,497.6 L291.5,497.6 L292.0,497.6 L292.5,497.6 L293.0,497.6 L293.5,496.7 L294.0,496.7 L294.5,497.6 L295.0,497.6 L295.5,497.6 L296.0,497.6 L296.5,497.6 L297.0,497.6 L297.5,497.6 L298.0,497.6 L298.5,497.6 L299.0,497.6 L299.5,497.6 L300.0,497.6 L300.5,497.6 L301.0,497.6 L301.5,497.6 L302.0,497.6 L302.5,497.6 L303.0,497.6 L303.5,497.6 L304.0,497.6 L304.5,497.6 L305.0,497.6 L305.5,497.6 L306.0,497.6 L306.5,497.6 L307.0,497.6 L307.5,497.6 L308.0,496.4 L308.5,497.6 L309.0,497.6 L309.5,496.0 L310.0,497.6 L310.5,497.6 L311.0,497.6 L311.5,497.6 L312.0,497.6 L312.5,497.6 L313.0,497.0 L313.5,496.4 L314.0,497.6 L314.5,497.6 L315.0,497.6 L315.5,496.5 L316.0,497.6 L316.5,497.6 L317.0,497.6 L317.5,497.6 L318.0,497.6 L318.5,497.6 L319.0,497.6 L319.5,497.6 L320.0,497.6 L320.5,497.6 L321.0,496.5 L321.5,497.5 L322.0,497.5 L322.5,497.5 L323.0,497.5 L323.5,497.5 L324.0,497.5 L324.5,497.5 L325.0,497.5 L325.5,497.5 L326.0,497.5 L326.5,496.1 L327.0,497.2 L327.5,497.5 L328.0,497.5 L328.5,496.9 L329.0,497.5 L329.5,497.5 L330.0,497.5 L330.5,496.8 L331.0,497.5 L331.5,497.5 L332.0,497.5 L332.5,497.5 L333.0,497.5 L333.5,497.4 L334.0,497.4 L334.5,497.4 L335.0,497.4 L335.5,497.4 L336.0,497.4 L336.5,497.4 L337.0,496.8 L337.5,497.3 L338.0,497.3 L338.5,497.2 L339.0,497.2 L339.5,497.1 L340.0,497.1 L340.5,497.0 L341.0,495.8 L341.5,496.8 L342.0,496.3 L342.5,496.1 L343.0,496.2 L343.5,495.8 L344.0,495.0 L344.5,493.4 L345.0,490.2 L345.5,484.2 L346.0,476.8 L346.5,466.9 L347.0,457.5 L347.5,452.5 L348.0,454.7 L348.5,462.6 L349.0,473.0 L349.5,481.3 L350.0,487.5 L350.5,492.3 L351.0,494.5 L351.5,495.5 L352.0,496.1 L352.5,496.4 L353.0,496.6 L353.5,496.8 L354.0,496.9 L354.5,497.0 L355.0,497.1 L355.5,497.1 L356.0,496.8 L356.5,495.8 L357.0,497.3 L357.5,497.3 L358.0,497.3 L358.5,496.4 L359.0,497.4 L359.5,497.4 L360.0,497.4 L360.5,497.4 L361.0,497.4 L361.5,496.3 L362.0,497.4 L362.5,497.5 L363.0,497.5 L363.5,497.5 L364.0,497.5 L364.5,497.5 L365.0,497.5 L365.5,497.5 L366.0,497.5 L366.5,497.5 L367.0,497.5 L367.5,497.5 L368.0,497.5 L368.5,496.9 L369.0,497.5 L369.5,497.5 L370.0,497.5 L370.5,497.5 L371.0,497.5 L371.5,497.5 L372.0,496.9 L372.5,497.5 L373.0,496.2 L373.5,497.5 L374.0,496.5 L374.5,497.5 L375.0,497.5 L375.5,497.6 L376.0,497.6 L376.5,497.6 L377.0,497.6 L377.5,497.6 L378.0,497.6 L378.5,497.6 L379.0,497.6 L379.5,497.6 L380.0,497.6 L380.5,497.6 L381.0,497.6 L381.5,497.6 L382.0,497.6 L382.5,497.6 L383.0,497.6 L383.5,497.6 L384.0,497.6 L384.5,497.6 L385.0,497.6 L385.5,497.6 L386.0,497.6 L386.5,497.6 L387.0,497.6 L387.5,497.6 L388.0,497.6 L388.5,497.6 L389.0,497.6 L389.5,497.6 L390.0,497.6 L390.5,497.6 L391.0,497.6 L391.5,497.2 L392.0,497.6 L392.5,497.6 L393.0,497.6 L393.5,497.6 L394.0,496.1 L394.5,497.6 L395.0,497.6 L395.5,497.6 L396.0,497.6 L396.5,497.6 L397.0,497.6 L397.5,497.6 L398.0,497.6 L398.5,496.8 L399.0,496.2 L399.5,497.6 L400.0,496.6 L400.5,496.2 L401.0,497.6 L401.5,497.6 L402.0,497.6 L402.5,497.6 L403.0,497.6 L403.5,497.6 L404.0,497.6 L404.5,497.1 L405.0,497.6 L405.5,496.9 L406.0,497.6 L406.5,497.6 L407.0,497.6 L407.5,496.3 L408.0,497.6 L408.5,497.5 L409.0,497.5 L409.5,497.5 L410.0,497.5 L410.5,497.5 L411.0,497.5 L411.5,497.5 L412.0,496.3 L412.5,496.2 L413.0,497.5 L413.5,496.0 L414.0,497.1 L414.5,497.5 L415.0,497.5 L415.5,496.0 L416.0,497.1 L416.5,497.5 L417.0,496.6 L417.5,497.5 L418.0,497.5 L418.5,497.5 L419.0,497.5 L419.5,496.4 L420.0,497.5 L420.5,497.5 L421.0,497.4 L421.5,497.4 L422.0,497.4 L422.5,497.4 L423.0,495.9 L423.5,497.4 L424.0,497.4 L424.5,497.3 L425.0,497.3 L425.5,497.3 L426.0,497.2 L426.5,497.2 L427.0,497.2 L427.5,497.1 L428.0,497.0 L428.5,496.9 L429.0,496.8 L429.5,496.6 L430.0,496.3 L430.5,495.8 L431.0,494.8 L431.5,493.1 L432.0,490.5 L432.5,486.8 L433.0,482.1 L433.5,477.1 L434.0,472.5 L434.5,470.6 L435.0,471.6 L435.5,475.2 L436.0,479.7 L436.5,485.0 L437.0,487.9 L437.5,492.2 L438.0,494.2 L438.5,495.4 L439.0,496.1 L439.5,496.5 L440.0,496.7 L440.5,496.9 L441.0,497.0 L441.5,497.1 L442.0,495.7 L442.5,497.2 L443.0,497.2 L443.5,497.3 L444.0,497.3 L444.5,497.3 L445.0,497.3 L445.5,497.4 L446.0,497.4 L446.5,496.1 L447.0,497.4 L447.5,497.4 L448.0,497.4 L448.5,497.4 L449.0,497.4 L449.5,497.4 L450.0,497.4 L450.5,497.1 L451.0,497.4 L451.5,497.4 L452.0,497.4 L452.5,496.5 L453.0,497.4 L453.5,497.1 L454.0,496.3 L454.5,497.4 L455.0,497.4 L455.5,497.4 L456.0,496.4 L456.5,497.3 L457.0,497.3 L457.5,497.2 L458.0,497.1 L458.5,496.4 L459.0,496.7 L459.5,496.2 L460.0,495.6 L460.5,494.8 L461.0,493.9 L461.5,493.0 L462.0,492.5 L462.5,492.6 L463.0,492.7 L463.5,494.1 L464.0,495.0 L464.5,495.8 L465.0,496.3 L465.5,496.1 L466.0,497.0 L466.5,497.1 L467.0,497.2 L467.5,497.3 L468.0,497.3 L468.5,497.4 L469.0,497.4 L469.5,497.4 L470.0,497.4 L470.5,497.5 L471.0,497.5 L471.5,497.5 L472.0,497.5 L472.5,497.5 L473.0,497.1 L473.5,497.5 L474.0,497.5 L474.5,497.5 L475.0,497.5 L475.5,497.5 L476.0,496.8 L476.5,497.5 L477.0,497.5 L477.5,497.5 L478.0,497.5 L478.5,497.6 L479.0,497.1 L479.5,497.6 L480.0,497.6 L480.5,497.6 L481.0,497.6 L481.5,497.6 L482.0,497.6 L482.5,497.6 L483.0,497.6 L483.5,497.6 L484.0,497.6 L484.5,497.6 L485.0,497.6 L485.5,497.6 L486.0,497.6 L486.5,497.6 L487.0,497.6 L487.5,496.0 L488.0,497.6 L488.5,497.6 L489.0,497.6 L489.5,496.6 L490.0,497.6 L490.5,497.6 L491.0,497.6 L491.5,497.6 L492.0,497.6 L492.5,497.1 L493.0,497.6 L493.5,497.6 L494.0,497.3 L494.5,497.6 L495.0,497.6 L495.5,497.6 L496.0,497.6 L496.5,497.6 L497.0,497.6 L497.5,497.6 L498.0,497.6 L498.5,496.4 L499.0,496.4 L499.5,497.6 L500.0,497.6 L500.5,496.1 L501.0,497.6 L501.5,497.6 L502.0,497.6 L502.5,496.6 L503.0,497.6 L503.5,497.6 L504.0,497.6 L504.5,497.6 L505.0,497.6 L505.5,497.6 L506.0,497.2 L506.5,497.6 L507.0,497.0 L507.5,496.6 L508.0,497.6 L508.5,496.7 L509.0,496.7 L509.5,497.6 L510.0,497.6 L510.5,497.6 L511.0,497.6 L511.5,497.6 L512.0,497.6 L512.5,497.6 L513.0,497.6 L513.5,497.6 L514.0,497.6 L514.5,497.6 L515.0,497.6 L515.5,497.6 L516.0,496.2 L516.5,497.6 L517.0,497.6 L517.5,497.6 L518.0,497.6 L518.5,497.6 L519.0,497.0 L519.5,497.6 L520.0,497.2 L520.5,497.6 L521.0,496.3 L521.5,497.6 L522.0,497.6 L522.5,496.6 L523.0,497.6 L523.5,497.6 L524.0,496.7 L524.5,497.6 L525.0,497.6 L525.5,497.6 L526.0,496.3 L526.5,496.5 L527.0,497.6 L527.5,497.6 L528.0,497.6 L528.5,497.6 L529.0,497.2 L529.5,496.8 L530.0,497.6 L530.5,497.6 L531.0,497.6 L531.5,497.6 L532.0,497.6 L532.5,497.6 L533.0,497.6 L533.5,497.6 L534.0,497.6 L534.5,497.6 L535.0,497.6 L535.5,496.9 L536.0,497.6 L536.5,497.6 L537.0,497.6 L537.5,496.8 L538.0,497.6 L538.5,496.0 L539.0,497.3 L539.5,497.6 L540.0,497.6 L540.5,497.6 L541.0,497.6 L541.5,497.6 L542.0,497.6 L542.5,497.6 L543.0,497.6 L543.5,497.6 L544.0,497.6 L544.5,497.6 L545.0,497.6 L545.5,497.6 L546.0,497.6 L546.5,497.6 L547.0,497.6 L547.5,497.6 L548.0,497.6 L548.5,497.6 L549.0,497.6 L549.5,497.6 L550.0,497.6 L550.5,497.6 L551.0,496.2 L551.5,497.6 L552.0,496.9 L552.5,497.5 L553.0,497.5 L553.5,497.5 L554.0,497.5 L554.5,497.5 L555.0,496.5 L555.5,497.5 L556.0,497.5 L556.5,496.0 L557.0,496.8 L557.5,497.5 L558.0,497.4 L558.5,497.4 L559.0,497.4 L559.5,497.3 L560.0,496.5 L560.5,497.1 L561.0,496.9 L561.5,496.6 L562.0,496.3 L562.5,495.6 L563.0,495.5 L563.5,493.6 L564.0,494.7 L564.5,494.5 L565.0,493.8 L565.5,493.7 L566.0,495.3 L566.5,495.7 L567.0,496.2 L567.5,496.5 L568.0,496.8 L568.5,497.0 L569.0,497.2 L569.5,497.3 L570.0,497.3 L570.5,497.4 L571.0,497.4 L571.5,496.2 L572.0,497.5 L572.5,497.5 L573.0,497.5 L573.5,497.5 L574.0,497.5 L574.5,497.5 L575.0,496.8 L575.5,497.5 L576.0,497.5 L576.5,497.5 L577.0,497.5 L577.5,497.1 L578.0,497.6 L578.5,496.4 L579.0,497.6 L579.5,497.6 L580.0,497.6 L580.5,497.6 L581.0,497.6 L581.5,497.6 L582.0,497.6 L582.5,496.7 L583.0,497.6 L583.5,497.6 L584.0,497.6 L584.5,497.6 L585.0,497.6 L585.5,497.6 L586.0,497.6 L586.5,497.6 L587.0,497.6 L587.5,497.6 L588.0,497.6 L588.5,497.6 L589.0,497.6 L589.5,496.8 L590.0,496.0 L590.5,497.6 L591.0,497.6 L591.5,497.6 L592.0,497.6 L592.5,497.6 L593.0,497.6 L593.5,497.6 L594.0,497.6 L594.5,497.6 L595.0,497.6 L595.5,497.6 L596.0,497.6 L596.5,497.2 L597.0,497.6 L597.5,497.6 L598.0,497.6 L598.5,497.6 L599.0,497.6 L599.5,497.2 L600.0,497.6 L600.5,497.6 L601.0,497.6 L601.5,497.6 L602.0,497.6 L602.5,497.6 L603.0,497.6 L603.5,497.6 L604.0,497.6 L604.5,497.6 L605.0,497.6 L605.5,497.6 L606.0,497.6 L606.5,497.6 L607.0,496.0 L607.5,497.6 L608.0,496.5 L608.5,497.6 L609.0,496.8 L609.5,497.6 L610.0,497.6 L610.5,497.6 L611.0,497.6 L611.5,497.6 L612.0,497.1 L612.5,497.6 L613.0,497.6 L613.5,497.6 L614.0,496.0 L614.5,497.3 L615.0,497.6 L615.5,497.6 L616.0,496.9 L616.5,496.2 L617.0,497.6 L617.5,497.2 L618.0,497.2 L618.5,497.6 L619.0,497.6 L619.5,497.6 L620.0,497.6 L620.5,497.6 L621.0,497.6 L621.5,497.6 L622.0,496.9 L622.5,497.6 L623.0,497.6 L623.5,497.6 L624.0,497.6 L624.5,497.6 L625.0,496.0 L625.5,497.6 L626.0,497.6 L626.5,497.6 L627.0,497.6 L627.5,497.6 L628.0,497.6 L628.5,496.4 L629.0,497.1 L629.5,497.6 L630.0,497.6 L630.5,497.6 L631.0,497.6 L631.5,497.6 L632.0,497.6 L632.5,497.1" fill="none" stroke="#000" stroke-width="3.8" stroke-linejoin="round"/>
<line x1="209.0" y1="119.5" x2="209.0" y2="154" stroke="#222" stroke-width="1" stroke-dasharray="1,1"/><line x1="209.9" y1="119.5" x2="209.9" y2="154" stroke="#222" stroke-width="1" stroke-dasharray="1,1"/><line x1="211.5" y1="106" x2="211.5" y2="154" stroke="#222" stroke-width="1" stroke-dasharray="1,1"/><line x1="214.5" y1="129" x2="214.5" y2="154" stroke="#222" stroke-width="1" stroke-dasharray="1,1"/>
<circle cx="166.2" cy="48.5" r="3.7" fill="#ff0000"/><circle cx="208.5" cy="115.5" r="3.7" fill="#ff0000"/><circle cx="212" cy="102.5" r="3.7" fill="#ff0000"/><circle cx="353.5" cy="104" r="3.7" fill="#ff0000"/><circle cx="361.9" cy="143.4" r="3.7" fill="#ff0000"/><circle cx="442.1" cy="133.75" r="3.7" fill="#ff0000"/><circle cx="448.7" cy="139.1" r="3.7" fill="#ff0000"/><circle cx="472.9" cy="151.7" r="3.7" fill="#ff0000"/><circle cx="581.6" cy="153.8" r="3.7" fill="#ff0000"/><path d="M143.40,130.85 L154.40,130.85 L148.90,139.15 Z" fill="#000"/><path d="M173.25,144.60 L184.25,144.60 L178.75,152.90 Z" fill="#000"/><path d="M198.50,148.25 L209.50,148.25 L204.00,156.55 Z" fill="#000"/><path d="M209.50,121.25 L220.50,121.25 L215.00,129.55 Z" fill="#000"/><path d="M340.00,149.25 L351.00,149.25 L345.50,157.55 Z" fill="#000"/><path d="M384.80,152.15 L395.80,152.15 L390.30,160.45 Z" fill="#000"/><path d="M398.30,149.85 L409.30,149.85 L403.80,158.15 Z" fill="#000"/><path d="M164.5,209.00 L170.55,215.20 L164.5,221.40 L158.45,215.20 Z" fill="#0000ff"/><path d="M210,293.50 L216.05,299.70 L210,305.90 L203.95,299.70 Z" fill="#0000ff"/><path d="M352.9,264.40 L358.95,270.60 L352.9,276.80 L346.84999999999997,270.60 Z" fill="#0000ff"/><path d="M441.5,286.80 L447.55,293.00 L441.5,299.20 L435.45,293.00 Z" fill="#0000ff"/><path d="M469.3,312.40 L475.35,318.60 L469.3,324.80 L463.25,318.60 Z" fill="#0000ff"/><path d="M572.7,314.50 L578.75,320.70 L572.7,326.90 L566.6500000000001,320.70 Z" fill="#0000ff"/><path d="M161.5,376.40 L167.55,382.60 L161.5,388.80 L155.45,382.60 Z" fill="#0000ff"/><path d="M204.9,451.50 L210.95000000000002,457.70 L204.9,463.90 L198.85,457.70 Z" fill="#0000ff"/><path d="M347.6,431.00 L353.65000000000003,437.20 L347.6,443.40 L341.55,437.20 Z" fill="#0000ff"/><path d="M435.1,449.40 L441.15000000000003,455.60 L435.1,461.80 L429.05,455.60 Z" fill="#0000ff"/><path d="M462.7,474.50 L468.75,480.70 L462.7,486.90 L456.65,480.70 Z" fill="#0000ff"/><path d="M564.1,476.40 L570.15,482.60 L564.1,488.80 L558.0500000000001,482.60 Z" fill="#0000ff"/>
<path d="M69.3,512.6 L69.3,12.75 L633.6,12.75 L633.6,512.6 M69.3,505.1 L633.6,505.1" fill="none" stroke="#000" stroke-width="4.1" stroke-linejoin="miter"/>
<line x1="164.00" y1="505" x2="164.00" y2="512.6" stroke="#000" stroke-width="4"/><line x1="257.80" y1="505" x2="257.80" y2="512.6" stroke="#000" stroke-width="4"/><line x1="351.40" y1="505" x2="351.40" y2="512.6" stroke="#000" stroke-width="4"/><line x1="445.05" y1="505" x2="445.05" y2="512.6" stroke="#000" stroke-width="4"/><line x1="540.05" y1="505" x2="540.05" y2="512.6" stroke="#000" stroke-width="4"/><line x1="116.50" y1="505" x2="116.50" y2="508.3" stroke="#000" stroke-width="4"/><line x1="210.90" y1="505" x2="210.90" y2="508.3" stroke="#000" stroke-width="4"/><line x1="304.60" y1="505" x2="304.60" y2="508.3" stroke="#000" stroke-width="4"/><line x1="398.23" y1="505" x2="398.23" y2="508.3" stroke="#000" stroke-width="4"/><line x1="492.55" y1="505" x2="492.55" y2="508.3" stroke="#000" stroke-width="4"/><line x1="586.83" y1="505" x2="586.83" y2="508.3" stroke="#000" stroke-width="4"/>
<text x="69.20" y="544.4" text-anchor="middle" font-size="34.3">20</text><text x="163.00" y="544.4" text-anchor="middle" font-size="34.3">30</text><text x="256.40" y="544.4" text-anchor="middle" font-size="34.3">40</text><text x="351.20" y="544.4" text-anchor="middle" font-size="34.3">50</text><text x="445.10" y="544.4" text-anchor="middle" font-size="34.3">60</text><text x="539.10" y="544.4" text-anchor="middle" font-size="34.3">70</text><text x="632.90" y="544.4" text-anchor="middle" font-size="34.3">80</text>
<text x="298.2" y="581.2" font-size="35.5">2θ (°)</text>
<text transform="translate(35.4,372.5) rotate(-90)" font-size="35.5">Intensity (a.u.)</text>
<text transform="translate(84.6,122.4) scale(0.904,1)" font-size="26.4" stroke="#fff" stroke-width="0.3">3YSZ</text>
<text transform="translate(86.23,286.5) scale(0.912,1)" font-size="26.4" stroke="#fff" stroke-width="0.3">8YSZ</text>
<text transform="translate(74.02,439.65) scale(0.912,1)" font-size="26.4" stroke="#fff" stroke-width="0.3">30YSZ</text>
<path d="M408.20,23.10 L419.90,23.10 L414.05,31.80 Z" fill="#000"/>
<circle cx="414.45" cy="52.8" r="3.65" fill="#ff0000"/>
<path d="M414,69.20 L420.1,75.60 L414,82.00 L407.9,75.60 Z" fill="#0000ff"/>
<text x="423.31" y="36.05" font-size="25.2">Monoclinic</text>
<text x="559.25" y="36.05" font-size="24.7">phase</text>
<text x="427.11" y="61.2" font-size="25.4">Tetragonal</text>
<text x="558.15" y="61.2" font-size="24.7">phase</text>
<text x="425.15" y="85.6" font-size="25.2">Cubic</text>
<text x="499.75" y="85.6" font-size="24.7">phase</text>
</g>
</svg></body></html>
